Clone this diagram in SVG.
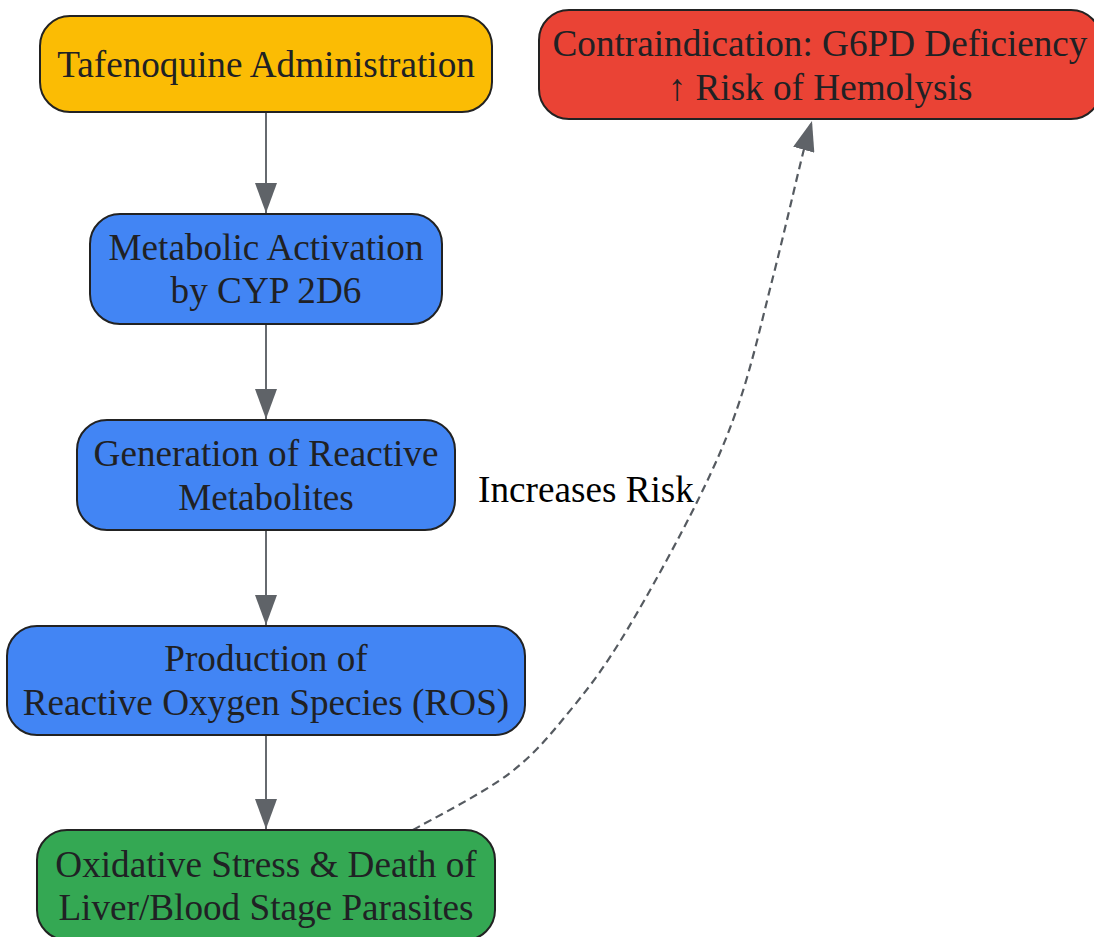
<svg xmlns="http://www.w3.org/2000/svg" width="1094" height="937" viewBox="0 0 1094 937">
<style>
.node rect{stroke:#222222;stroke-width:2}
.node text{font-family:"Liberation Serif","Times New Roman",serif;font-size:37.2px;fill:#202124;text-anchor:middle}
.edge{fill:none;stroke:#666a6f;stroke-width:2}
.dashed{stroke:#555a60;stroke-width:2.2;stroke-dasharray:8 5}
.lbl{font-family:"Liberation Serif","Times New Roman",serif;font-size:37.2px;fill:#000;text-anchor:middle}
</style>
<defs>
<marker id="arr" viewBox="0 0 30 22" refX="30" refY="11" markerWidth="30" markerHeight="22" markerUnits="userSpaceOnUse" orient="auto">
<path d="M0,0 L30,11 L0,22 z" fill="#5f6368"/>
</marker>
</defs>
<rect width="1094" height="937" fill="#ffffff"/>
<g id="connectors">
<line class="edge" x1="266" y1="112" x2="266" y2="213" marker-end="url(#arr)"/>
<line class="edge" x1="266" y1="324" x2="266" y2="419" marker-end="url(#arr)"/>
<line class="edge" x1="266" y1="530" x2="266" y2="625" marker-end="url(#arr)"/>
<line class="edge" x1="266" y1="735" x2="266" y2="829" marker-end="url(#arr)"/>
<path class="edge dashed" d="M413,830 C429.2,820.5 483.3,793.5 510,773 C536.7,752.5 553.5,730.8 573,707 C592.5,683.2 606.2,664.5 627,630 C647.8,595.5 679.2,538.3 698,500 C716.8,461.7 727.5,437.2 740,400 C752.5,362.8 762.5,318.2 773,277 C783.5,235.8 796.5,179 803,153 C807,137 810,128 812,121" marker-end="url(#arr)"/>
<text class="lbl" x="586" y="502">Increases Risk</text>
</g>
<g id="n1" class="node">
<rect x="40" y="16" width="452" height="96" rx="30" fill="#FBBC04"/>
<text x="266" y="77">Tafenoquine Administration</text>
</g>
<g id="n2" class="node">
<rect x="90" y="214" width="352" height="110" rx="30" fill="#4285F4"/>
<text x="266" y="260">Metabolic Activation</text>
<text x="266" y="303">by CYP 2D6</text>
</g>
<g id="n3" class="node">
<rect x="77" y="420" width="378" height="110" rx="30" fill="#4285F4"/>
<text x="266" y="466">Generation of Reactive</text>
<text x="266" y="510">Metabolites</text>
</g>
<g id="n4" class="node">
<rect x="7" y="626" width="518" height="109" rx="30" fill="#4285F4"/>
<text x="266" y="671">Production of</text>
<text x="266" y="715">Reactive Oxygen Species (ROS)</text>
</g>
<g id="n5" class="node">
<rect x="37" y="830" width="458" height="110" rx="30" fill="#34A853"/>
<text x="266" y="877">Oxidative Stress &amp; Death of</text>
<text x="266" y="920">Liver/Blood Stage Parasites</text>
</g>
<g id="n6" class="node">
<rect x="539" y="10" width="562" height="109" rx="30" fill="#EA4335"/>
<text x="820" y="56">Contraindication: G6PD Deficiency</text>
<text x="820" y="100">↑ Risk of Hemolysis</text>
</g>
</svg>
